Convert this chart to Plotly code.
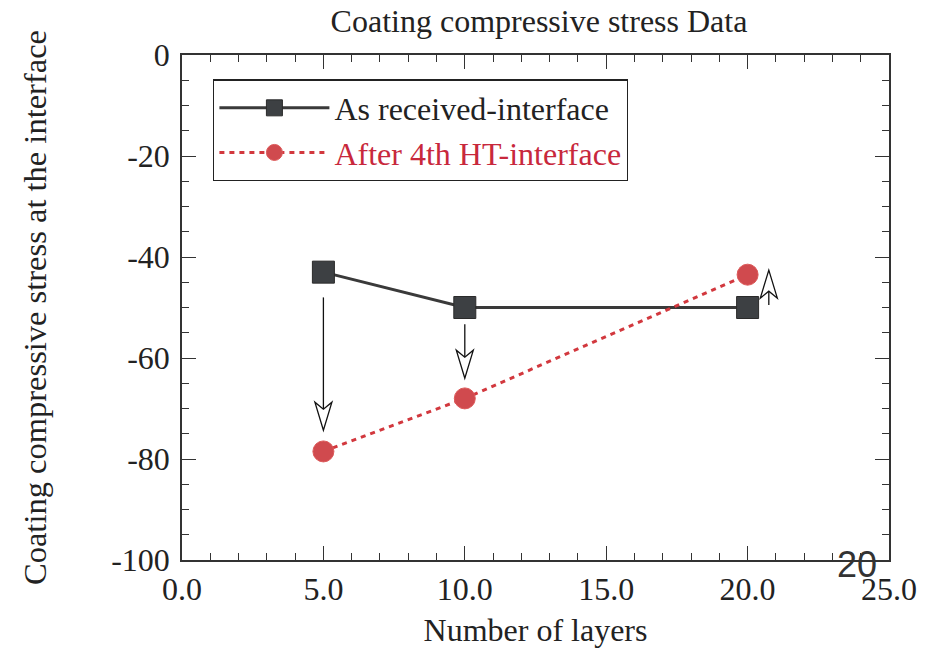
import plotly.graph_objects as go

# ---- data ----
layers = [5, 10, 20]
as_received = [-43, -50, -50]
after_ht = [-78.5, -68, -43.5]

# change arrows (x position, start value, end value)
arrow_x = [5, 10, 20.75]
arrow_from = [-48, -53.3, -49.5]
arrow_to = [-74.3, -64, -42.6]

x_tickvals = [0, 5, 10, 15, 20, 25]
x_ticktext = ["0.0", "5.0", "10.0", "15.0", "20.0", "25.0"]
y_tickvals = [0, -20, -40, -60, -80, -100]
y_ticktext = ["0", "-20", "-40", "-60", "-80", "-100"]

W, H = 934, 648
ML, MR, MT, MB = 182, 45, 55, 88
XR = (0, 25)
YR = (-100, 0)
px_x = (XR[1] - XR[0]) / (W - ML - MR)   # data units per pixel
px_y = (YR[1] - YR[0]) / (H - MT - MB)

SERIF = "Liberation Serif"

fig = go.Figure()
fig.add_trace(go.Scatter(
    x=layers, y=as_received, mode="lines+markers",
    name="As received-interface",
    line=dict(color="#3a3a3a", width=3),
    marker=dict(symbol="square", size=22, color="#3d4043",
                line=dict(color="#2a2a2a", width=1)),
))
fig.add_trace(go.Scatter(
    x=layers, y=after_ht, mode="lines+markers",
    name="<span style='color:#c8283c'>After 4th HT-interface</span>",
    line=dict(color="#d2383e", width=3, dash="5px,5px"),
    marker=dict(symbol="circle", size=21, color="#d04a4e",
                line=dict(color="#dd5a5a", width=1)),
))

# hollow arrows
shapes = []
for xa, y0, y1 in zip(arrow_x, arrow_from, arrow_to):
    d = -1 if y1 < y0 else 1          # direction (pixels up = +)
    head_h, notch_h, half_w = 28 * px_y, 21 * px_y, 8.5 * px_x
    notch = y1 - d * notch_h
    back = y1 - d * head_h
    shapes.append(dict(type="line", xref="x", yref="y", x0=xa, x1=xa,
                       y0=y0, y1=notch, line=dict(color="#111", width=1.3)))
    path = (f"M {xa} {y1} L {xa - half_w} {back} L {xa} {notch} "
            f"L {xa + half_w} {back} Z")
    shapes.append(dict(type="path", xref="x", yref="y", path=path,
                       fillcolor="white", line=dict(color="#111", width=1.3)))

axis_common = dict(
    showline=True, linecolor="#333", linewidth=1.5, mirror="allticks",
    ticks="inside", ticklen=14, tickwidth=1.3, tickcolor="#333",
    showgrid=False, zeroline=False, automargin=False,
    tickfont=dict(family=SERIF, size=32, color="#222"),
)

fig.update_layout(
    width=W, height=H,
    margin=dict(l=ML, r=MR, t=MT, b=MB),
    paper_bgcolor="white", plot_bgcolor="white",
    title=dict(text="Coating compressive stress Data", xref="paper",
               x=(539 - ML) / (W - ML - MR), xanchor="center",
               y=0.968, yanchor="middle",
               font=dict(family=SERIF, size=32, color="#222")),
    xaxis=dict(range=list(XR), tickvals=x_tickvals, ticktext=x_ticktext,
               minor=dict(dtick=1, ticks="inside", ticklen=7, tickcolor="#333"),
               title=dict(text="Number of layers", standoff=12,
                          font=dict(family=SERIF, size=32, color="#222")),
               **axis_common),
    yaxis=dict(range=list(YR), tickvals=y_tickvals, ticktext=y_ticktext,
               minor=dict(dtick=5, ticks="inside", ticklen=7, tickcolor="#333"),
               ticklabelstandoff=4,
               title=dict(text="Coating compressive stress at the interface", standoff=55,
                          font=dict(family=SERIF, size=32.5, color="#222")),
               **axis_common),
    legend=dict(x=0.044, y=0.952, xanchor="left", yanchor="top",
                bgcolor="white", bordercolor="#222", borderwidth=1.3,
                font=dict(family=SERIF, size=32, color="#222"),
                itemwidth=110, tracegroupgap=0),
    shapes=shapes,
    showlegend=True,
)

fig.add_annotation(text="20", xref="paper", yref="paper",
                   x=(857 - ML) / (W - ML - MR), y=1 - (564 - MT) / (H - MT - MB),
                   xanchor="center", yanchor="middle", showarrow=False,
                   font=dict(family="Liberation Sans", size=36, color="#333"))

fig.write_html("out.html")
